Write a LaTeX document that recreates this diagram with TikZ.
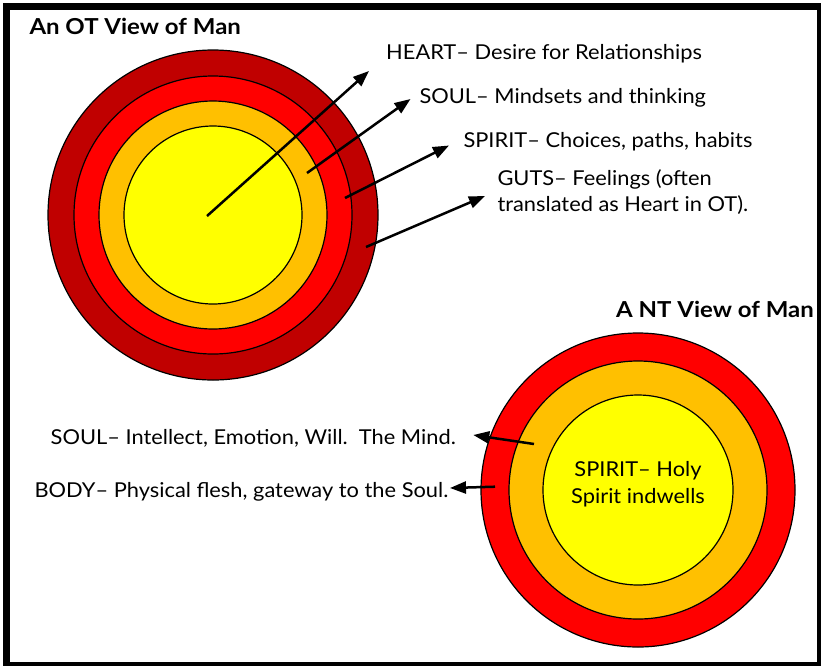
\documentclass[tikz,border=0pt]{standalone}
\usepackage{fontspec}
\setmainfont{Lato}[FakeStretch=1.065]
\newfontfamily\titlefont{Lato}[FakeStretch=1.09]
\usetikzlibrary{arrows.meta,calc}
\definecolor{ringdark}{HTML}{C00000}
\definecolor{ringred}{HTML}{FF0000}
\definecolor{ringorange}{HTML}{FFC000}
\definecolor{ringyellow}{HTML}{FFFF00}
\def\otouter{(213,215) circle (165pt)}
\def\otsecond{(213,215) circle (139pt)}
\def\otthird{(213,215) circle (114pt)}
\def\otinner{(213,215) circle (89pt)}
\def\ntouter{(638,490) circle (157pt)}
\def\ntsecond{(638,490) circle (129pt)}
\def\ntinner{(638,490) circle (95pt)}
\tikzset{
  labeltext/.style={inner sep=0pt,font=\fontsize{20.5}{26.7}\selectfont},
  titletext/.style={inner sep=0pt,anchor=base west,font=\titlefont\fontsize{22}{25}\selectfont\bfseries},
  pointer/.style={line width=2.5pt,-{Triangle[length=16pt,width=12pt]}}
}
\begin{document}
\begin{tikzpicture}[x=1pt,y=-1pt]
    \useasboundingbox (0,0) rectangle (821,665);
    \draw[line width=7pt] (6.5,6.5) rectangle (820.5,665.5);
% OT rings
        \fill[ringdark] \otouter;
        \fill[ringred] \otsecond;
        \fill[ringorange] \otthird;
        \fill[ringyellow] \otinner;
    \draw[line width=1.2pt] \otouter; \draw[line width=1.2pt] \otsecond;
    \draw[line width=1.2pt] \otthird; \draw[line width=1.2pt] \otinner;
% NT rings
        \fill[ringred] \ntouter;
        \fill[ringorange] \ntsecond;
        \fill[ringyellow] \ntinner;
    \draw[line width=1.2pt] \ntouter; \draw[line width=1.2pt] \ntsecond;
    \draw[line width=1.2pt] \ntinner;
% titles
    \node[titletext] (ottitle) at (29.3,34.7) {An OT View of Man};
    \node[titletext] (nttitle) at (616,317.7) {A NT View of Man};
% OT labels
    \node[labeltext,anchor=base west] (heart) at (386,59.3) {HEART– Desire for Relationships};
    \node[labeltext,anchor=base west] (otsoul) at (419.3,103.3) {SOUL– Mindsets and thinking};
    \node[labeltext,anchor=base west] (otspirit) at (463.3,147.7) {SPIRIT– Choices, paths, habits};
    \node[labeltext,anchor=base west] (guts) at (497.3,185) {GUTS– Feelings (often};
    \node[labeltext,anchor=base west] (gutsb) at ($(guts.base west)+(0,26.7)$) {translated as Heart in OT).};
% NT labels
    \node[labeltext,align=center] (ntspirit) at (638,484.5) {SPIRIT– Holy\\Spirit indwells};
    \node[labeltext,anchor=base east] (ntsoul) at (456,444.3) {SOUL– Intellect, Emotion, Will.\ \ The Mind.};
    \node[labeltext,anchor=base east] (body) at (448.5,497.5) {BODY– Physical flesh, gateway to the Soul.};
% arrows
    \coordinate (heartfrom) at (207,216);   \coordinate (heartto) at (369,71);
    \coordinate (otsoulfrom) at (307,173);  \coordinate (otsoulto) at (410.5,99);
    \coordinate (otspiritfrom) at (345,198); \coordinate (otspiritto) at (449,145.5);
    \coordinate (gutsfrom) at (366,247);    \coordinate (gutsto) at (485,196);
    \coordinate (ntsoulfrom) at (534,444);  \coordinate (ntsoulto) at (473.3,435);
    \coordinate (bodyfrom) at (495,486.7);  \coordinate (bodyto) at (450,488);
    \draw[pointer] (heartfrom) -- (heartto);
    \draw[pointer] (otsoulfrom) -- (otsoulto);
    \draw[pointer] (otspiritfrom) -- (otspiritto);
    \draw[pointer] (gutsfrom) -- (gutsto);
    \draw[pointer] (ntsoulfrom) -- (ntsoulto);
    \draw[pointer] (bodyfrom) -- (bodyto);
\end{tikzpicture}
\end{document}
